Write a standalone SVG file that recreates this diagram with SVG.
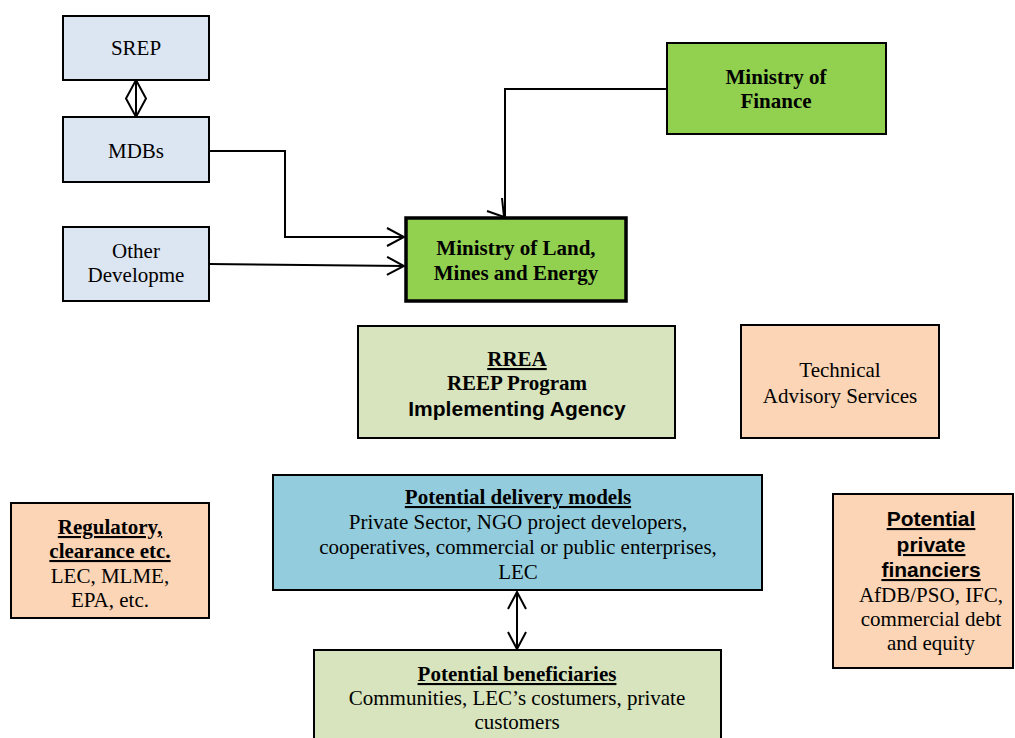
<svg xmlns="http://www.w3.org/2000/svg" width="1015" height="738" viewBox="0 0 1015 738">
<style>
  .box{stroke:#000;stroke-width:2}
  .blue{fill:#DCE6F2}
  .green{fill:#92D050}
  .pale{fill:#D7E4BD}
  .peach{fill:#FBD5B5}
  .cyan{fill:#93CDDD}
  .t{font-family:"Liberation Serif","Times New Roman",serif;font-size:21px;fill:#000;text-anchor:middle}
  .b{font-weight:bold}
  .s{font-family:"Liberation Sans",Arial,sans-serif;font-weight:bold}
  .u{text-decoration:underline}
  .line{fill:none;stroke:#000;stroke-width:2}
</style>
<defs>
  <marker id="arr" markerUnits="userSpaceOnUse" markerWidth="20" markerHeight="20" viewBox="0 0 20 20" refX="18" refY="10" orient="auto-start-reverse">
    <path d="M1,1 L18,10 L1,19" fill="none" stroke="#000" stroke-width="2"/>
  </marker>
</defs>
<rect width="1015" height="738" fill="#fff"/>

<g id="connectors">
  <path class="line" d="M209,151 H285 V237 H404" marker-end="url(#arr)"/>
  <path class="line" d="M209,264 L404,266" marker-end="url(#arr)"/>
  <path class="line" d="M667,89 H505 V217"/>
  <path class="line" d="M487,211 L504,217 L502,198"/>
  <path class="line" d="M517,592 V649" marker-start="url(#arr)" marker-end="url(#arr)"/>
  <g id="srep-mdbs">
    <path class="line" d="M136,80 L146,98.5 L136,117 L126,98.5 Z"/>
    <path class="line" d="M136,80 V117"/>
  </g>
</g>

<g id="srep">
  <rect class="box blue" x="63" y="16" width="146" height="64"/>
  <text class="t" x="136" y="55">SREP</text>
</g>
<g id="mdbs">
  <rect class="box blue" x="63" y="117" width="146" height="65"/>
  <text class="t" x="136" y="158">MDBs</text>
</g>
<g id="other">
  <rect class="box blue" x="63" y="227" width="146" height="74"/>
  <text class="t" x="136" y="258">Other</text>
  <text class="t" x="136" y="282">Developme</text>
</g>
<g id="molme">
  <rect x="406" y="218" width="220" height="83" fill="#92D050" stroke="#000" stroke-width="3.5"/>
  <text class="t b" x="516" y="255">Ministry of Land,</text>
  <text class="t b" x="516" y="280">Mines and Energy</text>
</g>
<g id="mof">
  <rect class="box green" x="667" y="43" width="219" height="91"/>
  <text class="t b" x="776" y="84">Ministry of</text>
  <text class="t b" x="776" y="108">Finance</text>
</g>
<g id="rrea">
  <rect class="box pale" x="358" y="326" width="317" height="112"/>
  <text class="t b u" x="517" y="366">RREA</text>
  <text class="t b" x="517" y="390">REEP Program</text>
  <text class="t s" x="517" y="416" font-size="21">Implementing Agency</text>
</g>
<g id="tas">
  <rect class="box peach" x="741" y="325" width="198" height="113"/>
  <text class="t" x="840" y="377">Technical</text>
  <text class="t" x="840" y="403">Advisory Services</text>
</g>
<g id="regulatory">
  <rect class="box peach" x="11" y="503" width="198" height="115"/>
  <text class="t b u" x="110" y="534">Regulatory,</text>
  <text class="t b u" x="110" y="558">clearance etc.</text>
  <text class="t" x="110" y="583">LEC, MLME,</text>
  <text class="t" x="110" y="607">EPA, etc.</text>
</g>
<g id="delivery">
  <rect class="box cyan" x="273" y="475" width="489" height="115"/>
  <text class="t b u" x="518" y="504">Potential delivery models</text>
  <text class="t" x="518" y="529">Private Sector, NGO project developers,</text>
  <text class="t" x="518" y="554">cooperatives, commercial or public enterprises,</text>
  <text class="t" x="518" y="579">LEC</text>
</g>
<g id="financiers">
  <rect class="box peach" x="833" y="494" width="180" height="174"/>
  <text class="t s u" x="931" y="526" font-size="20">Potential</text>
  <text class="t s u" x="931" y="552" font-size="20">private</text>
  <text class="t s u" x="931" y="577" font-size="20">financiers</text>
  <text class="t" x="931" y="602">AfDB/PSO, IFC,</text>
  <text class="t" x="931" y="626">commercial debt</text>
  <text class="t" x="931" y="650">and equity</text>
</g>
<g id="beneficiaries">
  <rect class="box pale" x="314" y="650" width="407" height="100"/>
  <text class="t b u" x="517" y="681">Potential beneficiaries</text>
  <text class="t" x="517" y="705">Communities, LEC’s costumers, private</text>
  <text class="t" x="517" y="729">customers</text>
</g>
</svg>
